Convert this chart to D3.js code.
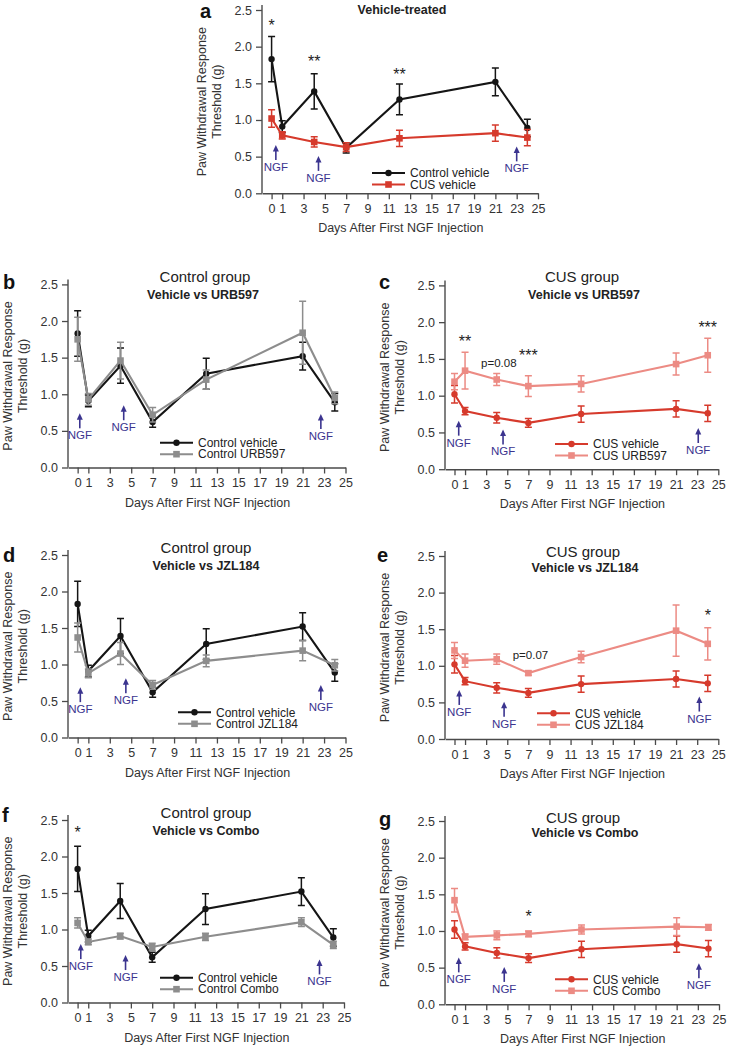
<!DOCTYPE html>
<html>
<head>
<meta charset="utf-8">
<script src="https://cdn.jsdelivr.net/npm/d3@7"></script>
<style>
  body { margin: 0; background: #fff; }
  svg { display: block; }
</style>
</head>
<body>
<svg id="fig" width="729" height="1047"></svg>
<script>
// ---- data ----
const days = [0, 1, 4, 7, 12, 21, 24];
const xTicks = [0, 1, 3, 5, 7, 9, 11, 13, 15, 17, 19, 21, 23, 25];
const yTicks = [0, 0.5, 1.0, 1.5, 2.0, 2.5];

const controlVehicle = [1.83, 0.91, 1.39, 0.62, 1.28, 1.52, 0.89];
const controlVehicleSem = [0.31, 0.08, 0.24, 0.07, 0.21, 0.19, 0.12];
const cusVehicle = [1.02, 0.79, 0.70, 0.63, 0.75, 0.82, 0.76];
const cusVehicleSem = [0.12, 0.05, 0.07, 0.06, 0.11, 0.11, 0.11];
const controlURB597 = [1.75, 0.93, 1.46, 0.72, 1.20, 1.84, 0.95];
const controlURB597Sem = [0.30, 0.08, 0.25, 0.10, 0.13, 0.43, 0.08];
const cusURB597 = [1.19, 1.34, 1.22, 1.13, 1.16, 1.43, 1.55];
const cusURB597Sem = [0.11, 0.25, 0.08, 0.14, 0.11, 0.15, 0.23];
const controlJZL184 = [1.37, 0.88, 1.15, 0.72, 1.05, 1.19, 0.99];
const controlJZL184Sem = [0.20, 0.06, 0.15, 0.06, 0.08, 0.14, 0.08];
const cusJZL184 = [1.21, 1.07, 1.09, 0.90, 1.12, 1.48, 1.30];
const cusJZL184Sem = [0.11, 0.09, 0.07, 0.03, 0.08, 0.35, 0.22];
const controlCombo = [1.09, 0.83, 0.91, 0.76, 0.90, 1.10, 0.79];
const controlComboSem = [0.07, 0.04, 0.04, 0.05, 0.05, 0.06, 0.05];
const cusCombo = [1.42, 0.92, 0.94, 0.96, 1.02, 1.06, 1.05];
const cusComboSem = [0.16, 0.04, 0.06, 0.04, 0.06, 0.12, 0.04];

// significance marks: [day, value, text]
const marksA = [[0, 2.34, "*"], [4, 1.84, "**"], [12, 1.67, "**"]];
const marksC = [[1, 1.79, "**"], [4.2, 1.44, "p=0.08"], [7, 1.59, "***"], [24, 1.98, "***"]];
const marksE = [[7.2, 1.15, "p=0.07"], [24, 1.74, "*"]];
const marksF = [[0, 2.37, "*"]];
const marksG = [[7, 1.24, "*"]];

// NGF arrows: [day, arrow tip value]
const ngfA = [[0.4, 0.66], [4.4, 0.51], [23, 0.64]];
const ngfB = [[0.2, 0.74], [4.3, 0.85], [22.7, 0.73]];
const ngfC = [[0.4, 0.66], [4.6, 0.54], [23.1, 0.56]];
const ngfD = [[0.25, 0.69], [4.5, 0.81], [22.7, 0.72]];
const ngfE = [[0.45, 0.67], [4.7, 0.51], [23.2, 0.58]];
const ngfF = [[0.3, 0.80], [4.5, 0.65], [22.7, 0.59]];
const ngfG = [[0.4, 0.64], [4.7, 0.51], [23.1, 0.56]];

// ---- styling ----
const font = "'Liberation Sans', Arial, Helvetica, sans-serif";
const colors = {
  black: "#151515",
  gray: "#8d8d8d",
  red: "#d63a2c",
  pink: "#ec8b84",
  ngf: "#3b348f",
  axis: "#4a4a4a",
  text: "#333333"
};

function makeSeries(name, values, sem, color, shape) {
  return { name, color, shape, points: days.map((d, i) => ({ day: d, v: values[i], e: sem[i] })) };
}

const sControlVehicle = makeSeries("Control vehicle", controlVehicle, controlVehicleSem, colors.black, "circle");
const sCusVehicleSq = makeSeries("CUS vehicle", cusVehicle, cusVehicleSem, colors.red, "square");
const sCusVehicle = makeSeries("CUS vehicle", cusVehicle, cusVehicleSem, colors.red, "circle");
const sControlURB = makeSeries("Control URB597", controlURB597, controlURB597Sem, colors.gray, "square");
const sCusURB = makeSeries("CUS URB597", cusURB597, cusURB597Sem, colors.pink, "square");
const sControlJZL = makeSeries("Control JZL184", controlJZL184, controlJZL184Sem, colors.gray, "square");
const sCusJZL = makeSeries("CUS JZL184", cusJZL184, cusJZL184Sem, colors.pink, "square");
const sControlCombo = makeSeries("Control Combo", controlCombo, controlComboSem, colors.gray, "square");
const sCusCombo = makeSeries("CUS Combo", cusCombo, cusComboSem, colors.pink, "square");

// panel layout
const panels = [
  { label: "a", labelPos: [200, 18], xr: [262, 538], yr: [193.3, 10],
    title: null, sub: "Vehicle-treated", subPos: [402, 13.5],
    series: [sControlVehicle, sCusVehicleSq], legend: [372, 173], marks: marksA, ngf: ngfA },
  { label: "b", labelPos: [3, 289], xr: [68, 345.5], yr: [467.5, 284.4],
    title: "Control group", titlePos: [205, 281.5], sub: "Vehicle vs URB597", subPos: [203, 298.5],
    series: [sControlVehicle, sControlURB], legend: [160, 442.7], marks: [], ngf: ngfB },
  { label: "c", labelPos: [379, 289], xr: [445, 718.3], yr: [469.2, 285.4],
    title: "CUS group", titlePos: [582, 281.5], sub: "Vehicle vs URB597", subPos: [584, 298.5],
    series: [sCusVehicle, sCusURB], legend: [555, 444], marks: marksC, ngf: ngfC },
  { label: "d", labelPos: [3, 561.5], xr: [68, 345.5], yr: [737.5, 555],
    title: "Control group", titlePos: [206, 552.7], sub: "Vehicle vs JZL184", subPos: [206, 570],
    series: [sControlVehicle, sControlJZL], legend: [178, 712.3], marks: [], ngf: ngfD },
  { label: "e", labelPos: [377, 561.5], xr: [445, 718.3], yr: [739, 556],
    title: "CUS group", titlePos: [583, 557], sub: "Vehicle vs JZL184", subPos: [585, 571.5],
    series: [sCusVehicle, sCusJZL], legend: [537, 713.3], marks: marksE, ngf: ngfE },
  { label: "f", labelPos: [2, 821.7], xr: [68, 344], yr: [1002.5, 820],
    title: "Control group", titlePos: [206, 818.3], sub: "Vehicle vs Combo", subPos: [206, 835],
    series: [sControlVehicle, sControlCombo], legend: [160, 977.7], marks: marksF, ngf: ngfF },
  { label: "g", labelPos: [379, 826], xr: [445, 719], yr: [1004.3, 821],
    title: "CUS group", titlePos: [583, 822.7], sub: "Vehicle vs Combo", subPos: [585, 837.3],
    series: [sCusVehicle, sCusCombo], legend: [555, 979.3], marks: marksG, ngf: ngfG }
];

const svg = d3.select("#fig").style("font-family", font);

function drawMarker(g, shape, cx, cy, color) {
  if (shape === "circle") {
    g.append("circle").attr("cx", cx).attr("cy", cy).attr("r", 3.2).attr("fill", color);
  } else {
    g.append("rect").attr("x", cx - 3.3).attr("y", cy - 3.3)
      .attr("width", 6.6).attr("height", 6.6).attr("fill", color);
  }
}

function drawPanel(p) {
  const g = svg.append("g");
  const x = d3.scaleLinear().domain([-0.9, 25]).range(p.xr);
  const y = d3.scaleLinear().domain([0, 2.5]).range(p.yr);

  // y axis
  const yAxis = d3.axisLeft(y)
    .tickValues(yTicks)
    .tickFormat(d3.format(".1f"))
    .tickSize(6)
    .tickPadding(4)
    .tickSizeOuter(0);
  const ya = g.append("g").attr("transform", `translate(${p.xr[0]},0)`).call(yAxis);
  ya.select(".domain").remove();
  g.append("line")
    .attr("x1", p.xr[0]).attr("x2", p.xr[0])
    .attr("y1", y(0)).attr("y2", y(2.5) - 5)
    .attr("stroke", colors.axis).attr("stroke-width", 1.4);

  // x axis
  const xAxis = d3.axisBottom(x)
    .tickValues(xTicks)
    .tickSize(6)
    .tickPadding(5)
    .tickSizeOuter(0);
  const xa = g.append("g").attr("transform", `translate(0,${y(0)})`).call(xAxis);

  [ya, xa].forEach(a => {
    a.selectAll("path").attr("stroke", colors.axis).attr("stroke-width", 1.4);
    a.selectAll(".tick line").attr("stroke", colors.axis).attr("stroke-width", 1.3);
    a.selectAll("text").attr("fill", colors.text).style("font-size", "12.5px").style("font-family", font);
  });

  // axis titles
  g.append("text")
    .attr("x", (x(0) + x(25)) / 2 - 4)
    .attr("y", y(0) + 39)
    .attr("text-anchor", "middle")
    .attr("fill", colors.text)
    .style("font-size", "12.5px")
    .text("Days After First NGF Injection");

  const yMid = (y(0) + y(2.5)) / 2;
  [["Paw Withdrawal Response", -60.5], ["Threshold (g)", -46]].forEach(([t, off]) => {
    const cx = p.xr[0] + off;
    g.append("text")
      .attr("transform", `translate(${cx + 4.5},${yMid}) rotate(-90)`)
      .attr("text-anchor", "middle")
      .attr("fill", colors.text)
      .style("font-size", "12.5px")
      .text(t);
  });

  // panel label and titles
  g.append("text")
    .attr("x", p.labelPos[0]).attr("y", p.labelPos[1])
    .attr("font-weight", "bold")
    .style("font-size", "20px")
    .attr("fill", "#111")
    .text(p.label);
  if (p.title) {
    g.append("text")
      .attr("x", p.titlePos[0]).attr("y", p.titlePos[1])
      .attr("text-anchor", "middle")
      .style("font-size", "15px")
      .attr("fill", "#222")
      .text(p.title);
  }
  g.append("text")
    .attr("x", p.subPos[0]).attr("y", p.subPos[1])
    .attr("text-anchor", "middle")
    .attr("font-weight", "bold")
    .style("font-size", "12.5px")
    .attr("fill", "#222")
    .text(p.sub);

  // NGF arrows
  p.ngf.forEach(([day, tip]) => {
    const cx = x(day), ty = y(tip);
    g.append("line")
      .attr("x1", cx).attr("x2", cx)
      .attr("y1", ty + 5).attr("y2", ty + 15)
      .attr("stroke", colors.ngf).attr("stroke-width", 1.6);
    g.append("path")
      .attr("d", `M${cx - 3},${ty + 6.5}L${cx + 3},${ty + 6.5}L${cx},${ty}Z`)
      .attr("fill", colors.ngf);
    g.append("text")
      .attr("x", cx).attr("y", ty + 26)
      .attr("text-anchor", "middle")
      .attr("fill", colors.ngf)
      .style("font-size", "11.5px")
      .text("NGF");
  });

  // series
  const line = d3.line().x(d => x(d.day)).y(d => y(d.v));
  p.series.forEach(s => {
    const sg = g.append("g");
    sg.append("path")
      .datum(s.points)
      .attr("d", line)
      .attr("fill", "none")
      .attr("stroke", s.color)
      .attr("stroke-width", 2.1);
    s.points.forEach(d => {
      const cx = x(d.day), yl = y(d.v - d.e), yh = y(d.v + d.e);
      sg.append("path")
        .attr("d", `M${cx},${yl}V${yh}M${cx - 3.5},${yl}H${cx + 3.5}M${cx - 3.5},${yh}H${cx + 3.5}`)
        .attr("fill", "none")
        .attr("stroke", s.color)
        .attr("stroke-width", 1.5);
      drawMarker(sg, s.shape, cx, y(d.v), s.color);
    });
  });

  // significance marks
  p.marks.forEach(([day, val, t]) => {
    const isStar = t.startsWith("*");
    g.append("text")
      .attr("x", x(day)).attr("y", y(val) + (isStar ? 9 : 4))
      .attr("text-anchor", "middle")
      .attr("fill", "#222")
      .style("font-size", isStar ? "16px" : "11.5px")
      .text(t);
  });

  // legend
  const [lx, ly] = p.legend;
  p.series.forEach((s, i) => {
    const yy = ly + i * 11.5;
    g.append("line")
      .attr("x1", lx).attr("x2", lx + 33)
      .attr("y1", yy).attr("y2", yy)
      .attr("stroke", s.color).attr("stroke-width", 2.1);
    drawMarker(g, s.shape, lx + 16.5, yy, s.color);
    g.append("text")
      .attr("x", lx + 38).attr("y", yy + 4.2)
      .attr("fill", "#222")
      .style("font-size", "12px")
      .text(s.name);
  });
}

panels.forEach(drawPanel);
</script>
</body>
</html>
